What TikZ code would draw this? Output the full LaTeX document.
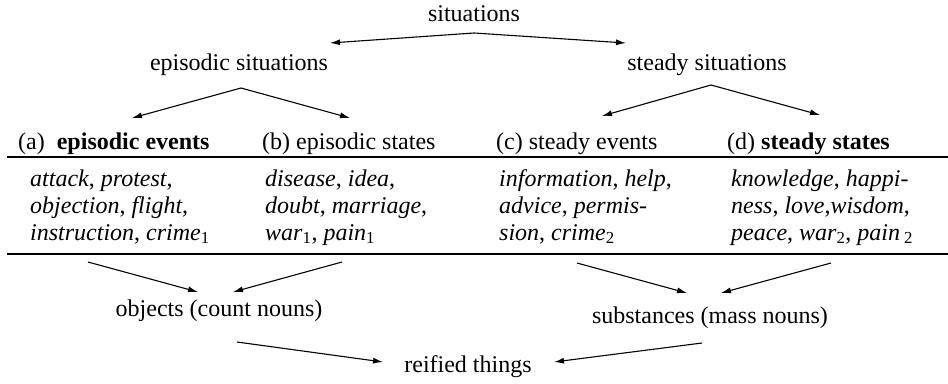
\documentclass[tikz,border=0pt]{standalone}
\usepackage{fontspec}
\setmainfont{Liberation Serif}
\usetikzlibrary{arrows.meta,calc}
\begin{document}
\begin{tikzpicture}[x=1pt,y=-1pt,
  lbl/.style={inner sep=0pt, font=\fontsize{24}{27}\selectfont},
  hd/.style={lbl, anchor=base west},
  ln/.style={lbl, anchor=base west},
  arr/.style={-{Latex[length=10pt,width=6pt]}, line width=1.1pt},
  rule/.style={line width=1.1pt}]
\useasboundingbox (0,0) rectangle (948,383);

% top of the hierarchy
\node[lbl, anchor=base] (sit) at (474,21) {situations};
\node[lbl, anchor=base] (epi) at (239,70) {episodic situations};
\node[lbl, anchor=base] (ste) at (707,70) {steady situations};

% column headings
\node[hd] (ha) at (18,149)  {(a)\ \ \textbf{episodic events}};
\node[hd] (hb) at (262,149) {(b) episodic states};
\node[hd] (hc) at (496,149) {(c) steady events};
\node[hd] (hd) at (727,149) {(d) \textbf{steady states}};

% examples, one node per line
\node[ln] (a1) at (30,186) {\textit{attack}, \textit{protest},};
\node[ln] (a2) at (30,213) {\textit{objection}, \textit{flight},};
\node[ln] (a3) at (30,240) {\textit{instruction}, \textit{crime}\textsubscript{1}};
\node[ln] (b1) at (265,186) {\textit{disease}, \textit{idea},};
\node[ln] (b2) at (265,213) {\textit{doubt}, \textit{marriage},};
\node[ln] (b3) at (265,240) {\textit{war}\textsubscript{1}, \textit{pain}\textsubscript{1}};
\node[ln] (c1) at (499,186) {\textit{information}, \textit{help},};
\node[ln] (c2) at (499,213) {\textit{advice}, \textit{permis-}};
\node[ln] (c3) at (499,240) {\textit{sion}, \textit{crime}\textsubscript{2}};
\node[ln] (d1) at (731,186) {\textit{knowledge}, \textit{happi-}};
\node[ln] (d2) at (731,213) {\textit{ness}, \textit{love},\textit{wisdom},};
\node[ln] (d3) at (731,240) {\textit{peace}, \textit{war}\textsubscript{2}, \textit{pain}\,\textsubscript{2}};

% table rules
\draw[rule] (7,157) -- (948,157);
\draw[rule] (7,254) -- (948,254);

% bottom of the hierarchy
\node[lbl, anchor=base] (obj) at (219,316) {objects (count nouns)};
\node[lbl, anchor=base] (sub) at (710,323) {substances (mass nouns)};
\node[lbl, anchor=base] (rei) at (468,372) {reified things};

% arrows
\draw[arr] ($(sit.base)+(0,12)$) -- ($(epi.base)+(91,-27)$);
\draw[arr] ($(sit.base)+(0,12)$) -- ($(ste.base)+(-81,-27)$);
\draw[arr] ($(epi.base)+(2,18)$) -- ($(ha.base west)+(114,-31)$);
\draw[arr] ($(epi.base)+(2,18)$) -- ($(hb.base west)+(88,-31)$);
\draw[arr] ($(ste.base)+(4,15)$) -- ($(hc.base west)+(106,-33)$);
\draw[arr] ($(ste.base)+(4,15)$) -- ($(hd.base west)+(93,-34)$);

\draw[arr] ($(a3.base west)+(58,22)$) -- ($(obj.base)+(-21,-24)$);
\draw[arr] ($(b3.base west)+(77,22)$) -- ($(obj.base)+(14,-24)$);
\draw[arr] ($(c3.base west)+(78,23)$) -- ($(sub.base)+(-23,-30)$);
\draw[arr] ($(d3.base west)+(100,23)$) -- ($(sub.base)+(11,-30)$);

\draw[arr] ($(obj.base)+(18,26)$) -- ($(rei.base)+(-85,-10)$);
\draw[arr] ($(sub.base)+(-8,20)$) -- ($(rei.base)+(86,-10)$);
\end{tikzpicture}
\end{document}
